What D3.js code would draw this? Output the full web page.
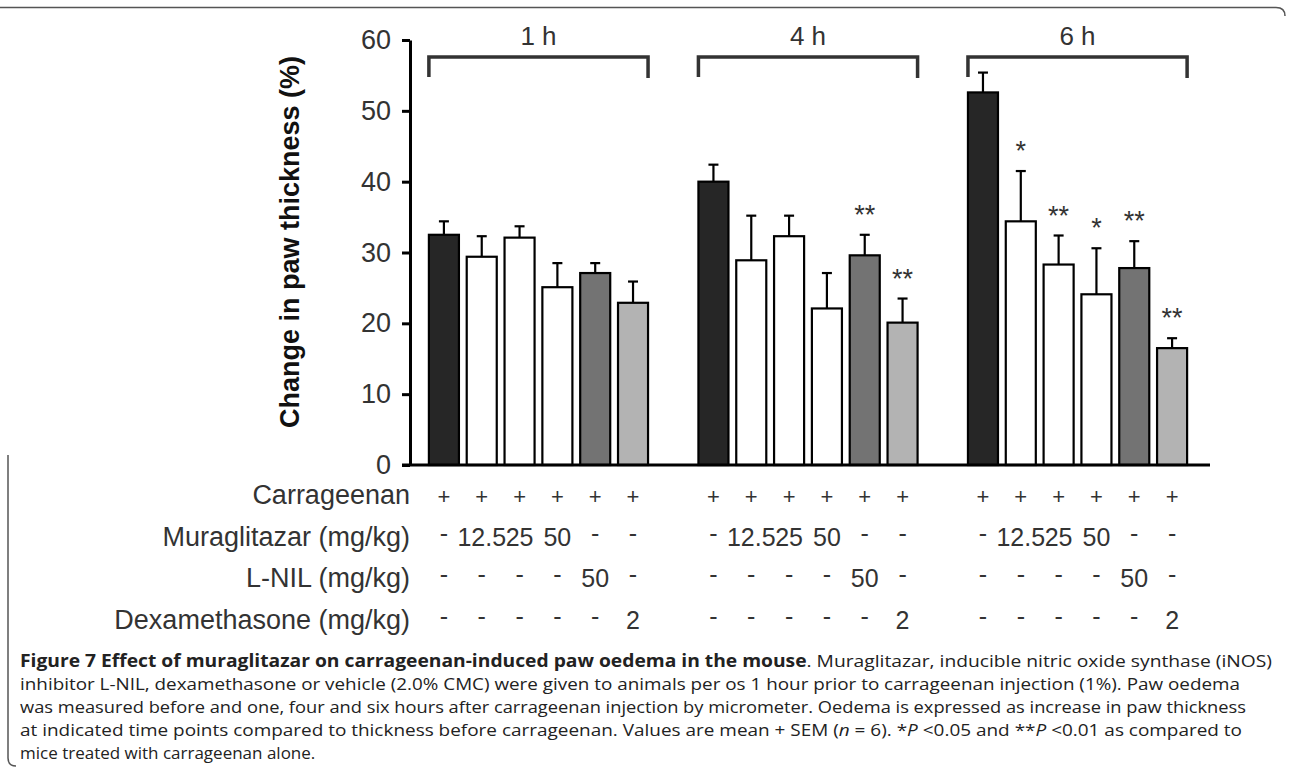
<!DOCTYPE html>
<html>
<head>
<meta charset="utf-8">
<script src="https://cdn.jsdelivr.net/npm/d3@7"></script>
<style>
  body { margin: 0; background: #fff; }
  svg { display: block; }
  .chart-text { font-family: "Liberation Sans", Arial, sans-serif; fill: #333; }
  .caption { font-family: "Open Sans", "Noto Sans", sans-serif; fill: #222; font-size: 17px; }
</style>
</head>
<body>
<div id="chart"></div>
<script>
// données
const groups = ["1 h", "4 h", "6 h"];
const treatments = ["vehicle", "mura12.5", "mura25", "mura50", "lnil", "dexa"];
const barFills = ["#262626", "#ffffff", "#ffffff", "#ffffff", "#737373", "#b3b3b3"];

const means1h = [32.5, 29.4, 32.1, 25.1, 27.1, 22.9];
const sem1h = [1.9, 2.9, 1.6, 3.4, 1.4, 3.0];
const means4h = [40.0, 28.9, 32.3, 22.1, 29.6, 20.1];
const sem4h = [2.4, 6.3, 2.9, 5.0, 2.9, 3.4];
const means6h = [52.6, 34.4, 28.3, 24.1, 27.8, 16.5];
const sem6h = [2.8, 7.1, 4.1, 6.5, 3.8, 1.4];

const stars1h = ["", "", "", "", "", ""];
const stars4h = ["", "", "", "", "**", "**"];
const stars6h = ["", "*", "**", "*", "**", "**"];

const yTicks = [0, 10, 20, 30, 40, 50, 60];

const rowLabels = ["Carrageenan", "Muraglitazar (mg/kg)", "L-NIL (mg/kg)", "Dexamethasone (mg/kg)"];
const rowValues = [
    ["+", "+", "+", "+", "+", "+"],
    ["-", "12.5", "25", "50", "-", "-"],
    ["-", "-", "-", "-", "50", "-"],
    ["-", "-", "-", "-", "-", "2"]
];

const captionLines = [
    [{ t: "Figure 7 Effect of muraglitazar on carrageenan-induced paw oedema in the mouse", b: true },
     { t: ". Muraglitazar, inducible nitric oxide synthase (iNOS)" }],
    [{ t: "inhibitor L-NIL, dexamethasone or vehicle (2.0% CMC) were given to animals per os 1 hour prior to carrageenan injection (1%). Paw oedema" }],
    [{ t: "was measured before and one, four and six hours after carrageenan injection by micrometer. Oedema is expressed as increase in paw thickness" }],
    [{ t: "at indicated time points compared to thickness before carrageenan. Values are mean + SEM (" }, { t: "n", i: true },
     { t: " = 6). *" }, { t: "P", i: true }, { t: " <0.05 and **" }, { t: "P", i: true }, { t: " <0.01 as compared to" }],
    [{ t: "mice treated with carrageenan alone." }]
];
const captionEnds = [1272, 1240, 1246, 1242, null];

// table des barres
const allMeans = [means1h, means4h, means6h];
const allSem = [sem1h, sem4h, sem6h];
const allStars = [stars1h, stars4h, stars6h];
const bars = [];
groups.forEach((g, gi) => {
    treatments.forEach((t, ti) => {
        bars.push({ group: g, treat: t, mean: allMeans[gi][ti], sem: allSem[gi][ti], star: allStars[gi][ti], fill: barFills[ti] });
    });
});

const width = 1290;
const height = 771;

const svg = d3.select("#chart")
    .append("svg")
    .attr("width", width)
    .attr("height", height);

// Échelles
const y = d3.scaleLinear().domain([0, 60]).range([465, 40]);

const x0 = d3.scaleBand()
    .domain(groups)
    .range([425, 1191])
    .paddingInner(0.158);

const x1 = d3.scaleBand()
    .domain(treatments)
    .range([0, x0.bandwidth()])
    .paddingInner(0.206)
    .paddingOuter(0.103);

const cx = (g, t) => x0(g) + x1(t) + x1.bandwidth() / 2;

// cadre de la figure
svg.append("path")
    .attr("d", "M0,7.5 H1276 Q1285,7.5 1285,16")
    .attr("fill", "none")
    .attr("stroke", "#555")
    .attr("stroke-width", 1.5);
svg.append("path")
    .attr("d", "M8,455 V758 Q8,766 16,766")
    .attr("fill", "none")
    .attr("stroke", "#555")
    .attr("stroke-width", 1.5);

// Barres
svg.append("g")
    .selectAll("rect")
    .data(bars)
    .join("rect")
    .attr("x", d => x0(d.group) + x1(d.treat))
    .attr("y", d => y(d.mean))
    .attr("width", x1.bandwidth())
    .attr("height", d => y(0) - y(d.mean))
    .attr("fill", d => d.fill)
    .attr("stroke", "#000")
    .attr("stroke-width", 2.2);

// barres d'erreur
const err = svg.append("g").attr("stroke", "#000").attr("stroke-width", 2.2);
err.selectAll("line.v")
    .data(bars)
    .join("line")
    .attr("class", "v")
    .attr("x1", d => cx(d.group, d.treat))
    .attr("x2", d => cx(d.group, d.treat))
    .attr("y1", d => y(d.mean))
    .attr("y2", d => y(d.mean + d.sem));
err.selectAll("line.cap")
    .data(bars)
    .join("line")
    .attr("class", "cap")
    .attr("x1", d => cx(d.group, d.treat) - 5)
    .attr("x2", d => cx(d.group, d.treat) + 5)
    .attr("y1", d => y(d.mean + d.sem))
    .attr("y2", d => y(d.mean + d.sem));

// étoiles de significativité
svg.append("g")
    .selectAll("text")
    .data(bars.filter(d => d.star))
    .join("text")
    .attr("class", "chart-text")
    .attr("x", d => cx(d.group, d.treat))
    .attr("y", d => y(d.mean + d.sem) - 11)
    .attr("text-anchor", "middle")
    .style("font-size", "27px")
    .text(d => d.star);

// axe Y
const yAxis = svg.append("g")
    .attr("transform", "translate(410,0)")
    .call(d3.axisLeft(y).tickValues(yTicks).tickSize(8).tickSizeOuter(0).tickPadding(11));
yAxis.select(".domain").attr("stroke", "#000").attr("stroke-width", 3);
yAxis.selectAll(".tick line").attr("stroke", "#000").attr("stroke-width", 3);
yAxis.selectAll(".tick text")
    .attr("class", "chart-text")
    .attr("fill", "#333")
    .style("font-size", "27px");

// ligne de base
svg.append("line")
    .attr("x1", 402)
    .attr("x2", x0(groups[2]) + x0.bandwidth() + 19)
    .attr("y1", y(0))
    .attr("y2", y(0))
    .attr("stroke", "#000")
    .attr("stroke-width", 3);

// titre de l'axe Y
svg.append("text")
    .attr("transform", `translate(299,242) rotate(-90)`)
    .attr("text-anchor", "middle")
    .attr("fill", "#111")
    .style("font-family", "'Liberation Sans', Arial, sans-serif")
    .style("font-weight", "bold")
    .style("font-size", "27px")
    .text("Change in paw thickness (%)");

// accolades des temps
const brackets = svg.append("g");
groups.forEach(g => {
    const xa = x0(g) + x1(treatments[0]);
    const xb = x0(g) + x1(treatments[5]) + x1.bandwidth();
    brackets.append("path")
        .attr("d", `M${xa},77 V57 H${xb} V78`)
        .attr("fill", "none")
        .attr("stroke", "#333")
        .attr("stroke-width", 3.5);
    brackets.append("text")
        .attr("class", "chart-text")
        .attr("x", (xa + xb) / 2)
        .attr("y", 45)
        .attr("text-anchor", "middle")
        .style("font-size", "26px")
        .text(g);
});

// tableau des traitements
const rowY = [504, 546, 587, 629];
const table = svg.append("g");
rowLabels.forEach((lab, ri) => {
    table.append("text")
        .attr("class", "chart-text")
        .attr("x", 410)
        .attr("y", rowY[ri])
        .attr("text-anchor", "end")
        .attr("fill", "#1a1a1a")
        .style("font-size", "27px")
        .text(lab);
    groups.forEach(g => {
        treatments.forEach((t, ti) => {
            table.append("text")
                .attr("class", "chart-text")
                .attr("x", cx(g, t))
                .attr("y", rowY[ri] + (rowValues[ri][ti] === "-" ? -4 : 0))
                .attr("text-anchor", "middle")
                .attr("fill", "#1a1a1a")
                .style("font-size", rowValues[ri][ti] === "+" ? "22px" : "25px")
                .text(rowValues[ri][ti]);
        });
    });
});

// légende de la figure
const capY = [667, 690, 713, 736, 759];
captionLines.forEach((parts, li) => {
    const txt = svg.append("text")
        .attr("class", "caption")
        .attr("x", 20)
        .attr("y", capY[li]);
    if (captionEnds[li]) {
        txt.attr("textLength", captionEnds[li] - 20).attr("lengthAdjust", "spacingAndGlyphs");
    }
    parts.forEach(p => {
        txt.append("tspan")
            .style("font-weight", p.b ? "bold" : "normal")
            .style("font-style", p.i ? "italic" : "normal")
            .text(p.t);
    });
});
</script>
</body>
</html>
